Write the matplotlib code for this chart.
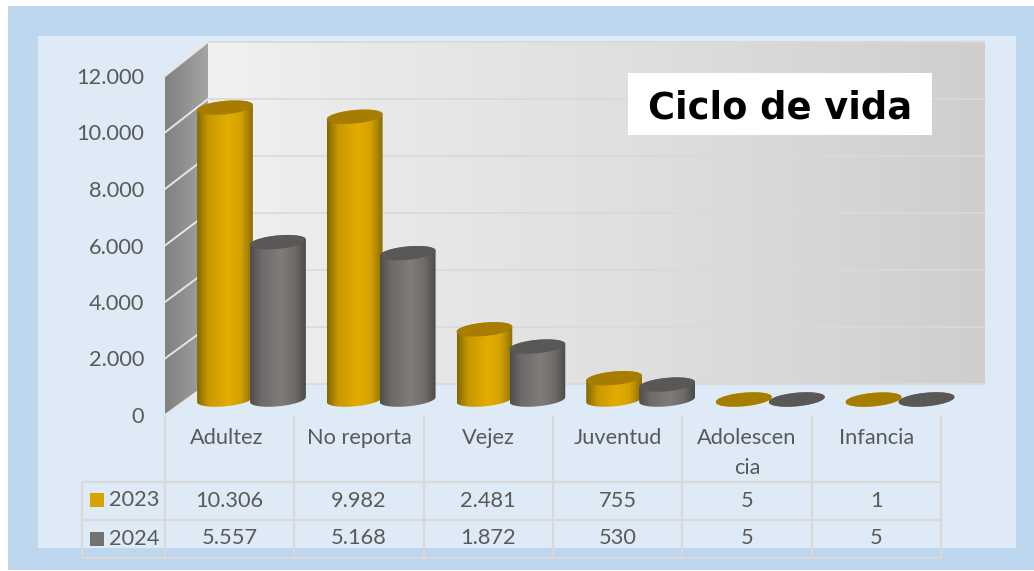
import numpy as np
import matplotlib
matplotlib.use("Agg")
import matplotlib.pyplot as plt
from matplotlib.patches import Polygon, Rectangle
from matplotlib.colors import to_rgb

categories = ["Adultez", "No reporta", "Vejez", "Juventud", "Adolescen\ncia", "Infancia"]
years = ["2023", "2024"]
values_2023 = [10306, 9982, 2481, 755, 5, 1]
values_2024 = [5557, 5168, 1872, 530, 5, 5]
labels_2023 = ["10.306", "9.982", "2.481", "755", "5", "1"]
labels_2024 = ["5.557", "5.168", "1.872", "530", "5", "5"]
y_ticks = [0, 2000, 4000, 6000, 8000, 10000, 12000]
y_tick_labels = ["0", "2.000", "4.000", "6.000", "8.000", "10.000", "12.000"]
title = "Ciclo de vida"

W, H = 1034, 571
TXT = "#595959"
LINE = "#d9d9d9"
FONT = "Lato"
FS = 15.7

fig = plt.figure(figsize=(W / 100, H / 100), dpi=100, facecolor="white")

# ---------- pixel-space backdrop
bg = fig.add_axes([0, 0, 1, 1], zorder=0)
bg.set_xlim(0, W)
bg.set_ylim(H, 0)
bg.axis("off")


def gradient(ax, x0, x1, y0, y1, stops, positions, clip=None, z=1):
    n = 256
    s = np.linspace(0, 1, n)
    rgb = np.array([to_rgb(c) for c in stops])
    arr = np.stack([np.interp(s, positions, rgb[:, k]) for k in range(3)], axis=1)[None, :, :]
    im = ax.imshow(arr, extent=(x0, x1, y1, y0), aspect="auto", zorder=z, interpolation="bilinear")
    if clip is not None:
        clip.set_transform(ax.transData)
        im.set_clip_path(clip)
    return im


bg.add_patch(Rectangle((8, 6), W - 8, 564, fc="#bdd7ee", ec="none", zorder=0))
bg.add_patch(Rectangle((38, 36), 978, 512, fc="#deeaf6", ec="none", zorder=0.5))

# back wall
gradient(bg, 208, 985, 41, 384, ["#f1f1f1", "#e9e9e9", "#dfdfdf", "#cfcecc"], [0, 0.2, 0.55, 1])
# side wall
side = Polygon([(165, 76), (208, 42), (208, 384), (165, 415)], closed=True)
gradient(bg, 165, 208, 42, 415, ["#808080", "#a4a4a4"], [0, 1], clip=side)

for v in y_ticks:
    yb = 384 - v * 342 / 12000
    yf = 415 - v * 339 / 12000
    bg.plot([208, 985], [yb, yb], color="#d9d9d9", lw=1.2, zorder=2, solid_capstyle="butt")
    bg.plot([165, 208], [yf, yb], color="#e6e6e6", lw=1.4, zorder=2)

# ---------- data table
tx0, tstep = 165, 129.3
tcols = [tx0 + tstep * i for i in range(len(categories) + 1)]
row_y = [482, 520, 558]
for i, x in enumerate(tcols):
    bg.plot([x, x], [416, 558], color=LINE, lw=1.6, zorder=2, solid_capstyle="butt")
bg.plot([82, 82], [482, 558], color=LINE, lw=1.6, zorder=2, solid_capstyle="butt")
for y in row_y:
    bg.plot([82, tcols[-1]], [y, y], color=LINE, lw=1.6, zorder=2, solid_capstyle="butt")

for i, c in enumerate(categories):
    cx = tx0 + tstep * (i + 0.5) - (3 if i == 0 else 0)
    lines = c.split("\n")
    for j, t in enumerate(lines):
        bg.text(cx, 438 + 30 * j, t, ha="center", va="center", color=TXT, family=FONT, fontsize=FS, zorder=5)
    bg.text(tx0 + tstep * (i + 0.5), 501, labels_2023[i], ha="center", va="center", color=TXT, family=FONT, fontsize=FS, zorder=5)
    bg.text(tx0 + tstep * (i + 0.5), 538, labels_2024[i], ha="center", va="center", color=TXT, family=FONT, fontsize=FS, zorder=5)

swatches = ["#d8a200", "#767171"]
for yr, col, yc in zip(years, swatches, [500, 539]):
    bg.add_patch(Rectangle((90, yc - 7), 14, 14, fc=col, ec="none", zorder=5))
    bg.text(109, yc, yr, ha="left", va="center", color=TXT, family=FONT, fontsize=FS, zorder=5)

# ---------- value axis (front edge of the 3D box)
ay = fig.add_axes([165 / W, 1 - 415 / H, 43 / W, 339 / H], zorder=1)
ay.set_ylim(0, 12000)
ay.set_xticks([])
ay.set_yticks(y_ticks)
ay.set_yticklabels(y_tick_labels, family=FONT, fontsize=FS, color=TXT)
ay.tick_params(axis="y", length=0, pad=15)
ay.patch.set_alpha(0)
for s in ay.spines.values():
    s.set_visible(False)

# ---------- cylinders on a value/category scale
ax = fig.add_axes([0, 0, 1, 1], zorder=2)
PX_CAT = 129.7
PX_VAL = 292 / 10306
X0, Y0 = 251.5, 399.6
xlim = (-X0 / PX_CAT, (W - X0) / PX_CAT)
ylim = ((Y0 - H) / PX_VAL, Y0 / PX_VAL)
ax.axis("off")
ax.patch.set_alpha(0)

A, B, THETA = 28.0, 6.7, np.deg2rad(-5.5)


def ell(b=B):
    t = np.linspace(0, 2 * np.pi, 121)[:-1]
    ex = A * np.cos(t) * np.cos(THETA) - b * np.sin(t) * np.sin(THETA)
    ey = A * np.cos(t) * np.sin(THETA) + b * np.sin(t) * np.cos(THETA)  # pixel, y down
    return ex, ey


def cylinder(cat, offset_px, value, stops, positions, top_color, z):
    xc = cat + offset_px / PX_CAT
    ex, ey = ell()
    il, ir = int(np.argmin(ex)), int(np.argmax(ex))
    dx = ex / PX_CAT
    dy = -ey / PX_VAL
    lower = [i % len(ex) for i in range(ir, ir + ((il - ir) % len(ex)) + 1)]
    upper = [i % len(ex) for i in range(il, il + ((ir - il) % len(ex)) + 1)]
    body_pts = [(xc + dx[i], dy[i]) for i in lower] + [(xc + dx[i], value + dy[i]) for i in upper]
    body = Polygon(body_pts, closed=True, fc="none", ec="none")
    ax.add_patch(body)
    ylo, yhi = dy.min() - 5, value + dy.max() + 5
    im = ax.imshow(
        np.stack([np.interp(np.linspace(0, 1, 128), positions, [to_rgb(c)[k] for c in stops]) for k in range(3)], axis=1)[None, :, :],
        extent=(xc + dx.min(), xc + dx.max(), ylo, yhi), aspect="auto", origin="lower", zorder=z,
    )
    im.set_clip_path(body)
    ax.add_patch(Polygon(np.column_stack([xc + dx, value + dy]), closed=True, fc=top_color, ec="none", zorder=z + 0.1))


GOLD = (["#846700", "#c89800", "#e3ad00", "#d5a200", "#8c6d00"], [0, 0.2, 0.55, 0.78, 1], "#a67d00")
GRAY = (["#504d4d", "#6d6a69", "#807c7a", "#6f6b6a", "#4c4a4a"], [0, 0.2, 0.55, 0.8, 1], "#5a5757")

for i in range(len(categories)):
    cylinder(i, -26.5, values_2023[i], GOLD[0], GOLD[1], GOLD[2], 3 + i * 2)
    cylinder(i, 26.5, values_2024[i], GRAY[0], GRAY[1], GRAY[2], 4 + i * 2)

ax.set_xlim(*xlim)
ax.set_ylim(*ylim)

# ---------- title box
tb = fig.add_axes([0, 0, 1, 1], zorder=3)
tb.set_xlim(0, W)
tb.set_ylim(H, 0)
tb.axis("off")
tb.add_patch(Rectangle((628, 73), 304, 62, fc="white", ec="none"))
tb.text(780, 108, title, ha="center", va="center", family="DejaVu Sans", fontweight="bold", fontsize=26.5, color="black")

fig.savefig("out.png", dpi=100, facecolor="white")
